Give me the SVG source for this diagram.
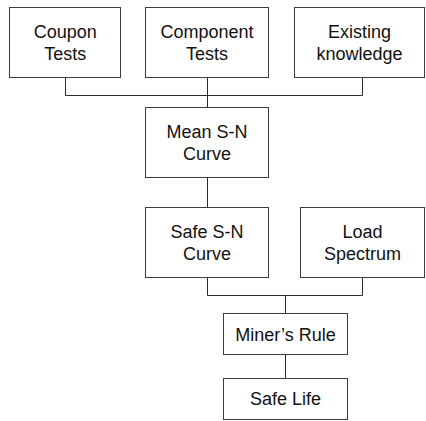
<svg xmlns="http://www.w3.org/2000/svg" width="426" height="421" viewBox="0 0 426 421">
  <style>
    .box { fill: #ffffff; stroke: #3c3c3c; stroke-width: 1; }
    .wire { fill: none; stroke: #2a2a2a; stroke-width: 1; }
    .lbl { font-family: "Liberation Sans", Arial, sans-serif; font-size: 18px; fill: #111111; text-anchor: middle; }
  </style>
  <rect width="426" height="421" fill="#ffffff"/>

  <g id="connectors">
    <path class="wire" d="M65.5 77.5 V95.5 H362.5 V77.5"/>
    <path class="wire" d="M207.5 77.5 V107.5"/>
    <path class="wire" d="M207.5 177.5 V207.5"/>
    <path class="wire" d="M207.5 277.5 V295.5 H362.5 V277.5"/>
    <path class="wire" d="M285.5 295.5 V313.5"/>
    <path class="wire" d="M285.5 354.5 V378.5"/>
  </g>

  <g id="coupon-tests">
    <rect class="box" x="9.5" y="7.5" width="111" height="70"/>
    <text class="lbl" x="65.3" y="38">Coupon</text>
    <text class="lbl" x="65.3" y="59.5">Tests</text>
  </g>

  <g id="component-tests">
    <rect class="box" x="145.5" y="7.5" width="123" height="70"/>
    <text class="lbl" x="207" y="38">Component</text>
    <text class="lbl" x="207" y="59.5">Tests</text>
  </g>

  <g id="existing-knowledge">
    <rect class="box" x="294.5" y="7.5" width="130" height="70"/>
    <text class="lbl" x="359.5" y="38">Existing</text>
    <text class="lbl" x="359.5" y="59.5">knowledge</text>
  </g>

  <g id="mean-sn-curve">
    <rect class="box" x="145.5" y="107.5" width="123" height="70"/>
    <text class="lbl" x="207" y="138">Mean S-N</text>
    <text class="lbl" x="207" y="160">Curve</text>
  </g>

  <g id="safe-sn-curve">
    <rect class="box" x="145.5" y="207.5" width="123" height="70"/>
    <text class="lbl" x="207" y="238">Safe S-N</text>
    <text class="lbl" x="207" y="260">Curve</text>
  </g>

  <g id="load-spectrum">
    <rect class="box" x="300.5" y="207.5" width="124" height="70"/>
    <text class="lbl" x="362.5" y="238">Load</text>
    <text class="lbl" x="362.5" y="260">Spectrum</text>
  </g>

  <g id="miners-rule">
    <rect class="box" x="223.5" y="313.5" width="124" height="41"/>
    <text class="lbl" x="285.5" y="340.7">Miner’s Rule</text>
  </g>

  <g id="safe-life">
    <rect class="box" x="223.5" y="378.5" width="124" height="41"/>
    <text class="lbl" x="285.5" y="405">Safe Life</text>
  </g>
</svg>
